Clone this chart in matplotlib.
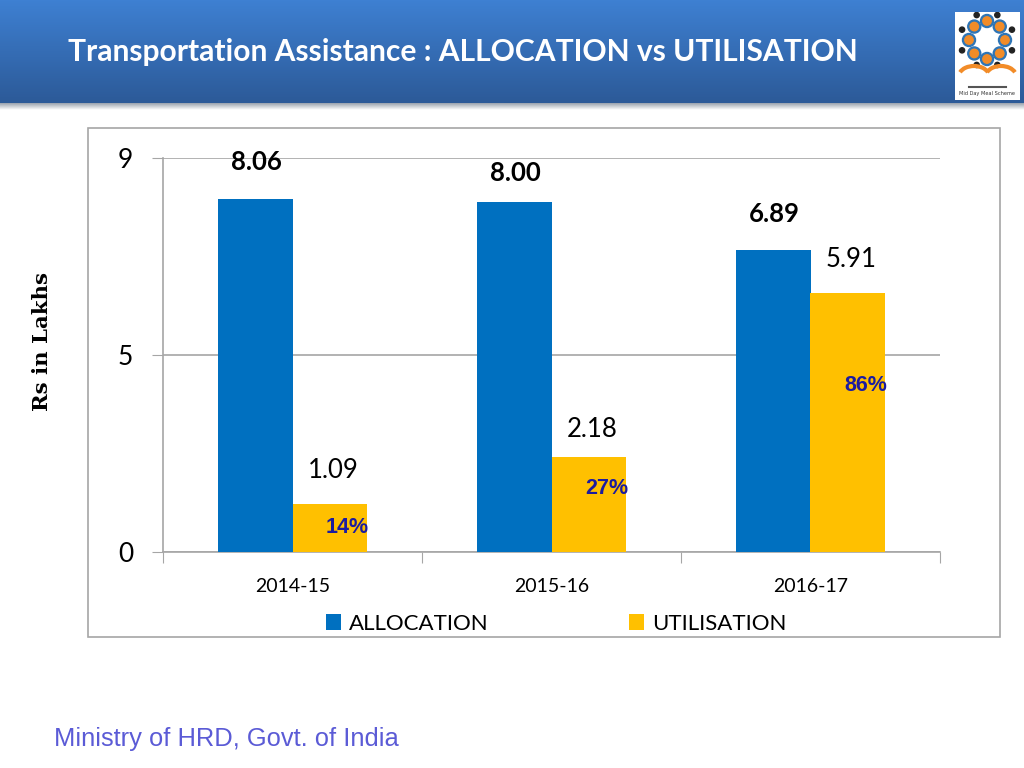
import numpy as np
import matplotlib.pyplot as plt
from matplotlib.colors import LinearSegmentedColormap
from matplotlib.patches import Rectangle, Circle, Arc

years = ['2014-15', '2015-16', '2016-17']
allocation = [8.06, 8.00, 6.89]
utilisation = [1.09, 2.18, 5.91]
pct_label = ['14%', '27%', '86%']
series = ['ALLOCATION', 'UTILISATION']
yticks = [0, 4.5, 9]   # Excel major unit 4.5, shown with no decimals

# label offsets (pixels) as placed on the slide
alloc_lift = [37, 29, 36]
util_lift = [34, 27, 34]
pct_drop = [23, 32, 92]

blue = '#0070C0'
yellow = '#FFC000'
grey = '#A6A6A6'

W, H = 1024, 768
fig = plt.figure(figsize=(10.24, 7.68), dpi=100)

# header band
hdr = fig.add_axes([0, 1 - 103 / H, 1, 103 / H])
cmap = LinearSegmentedColormap.from_list('hdr', ['#3E80D2', '#2C5A98'])
hdr.imshow(np.linspace(0, 1, 100)[:, None], aspect='auto', cmap=cmap, extent=[0, 1, 0, 1])
hdr.axis('off')
shadow = fig.add_axes([0, 1 - 110 / H, 1, 7 / H])
shadow.imshow(np.linspace(0, 1, 20)[:, None], aspect='auto',
              cmap=LinearSegmentedColormap.from_list('sh', ['#9AA3AE', '#FFFFFF']),
              extent=[0, 1, 0, 1])
shadow.axis('off')

fig.text(68 / W, 1 - 52 / H, 'Transportation Assistance : ALLOCATION vs UTILISATION',
         color='white', fontsize=21.6, weight='bold', family='Lato', va='center')

# logo
logo = fig.add_axes([955 / W, 1 - 100 / H, 65 / W, 88 / H])
logo.set_xlim(0, 65)
logo.set_ylim(0, 88)
logo.set_facecolor('white')
for s in logo.spines.values():
    s.set_visible(False)
logo.set_xticks([])
logo.set_yticks([])
for k in range(8):
    a = np.pi / 2 + k * np.pi / 4
    cx, cy = 32 + 18 * np.cos(a), 60 + 19 * np.sin(a)
    logo.add_patch(Circle((cx, cy), 6.5, color='#2E75B6'))
    logo.add_patch(Circle((cx, cy), 4.2, color='#F28C28'))
    logo.add_patch(Circle((32 + 27 * np.cos(a + np.pi / 8), 60 + 27 * np.sin(a + np.pi / 8)),
                          2.6, color='#222222'))
logo.add_patch(Arc((19, 24), 30, 20, theta1=15, theta2=165, color='#F28C28', lw=3))
logo.add_patch(Arc((46, 24), 30, 20, theta1=15, theta2=165, color='#F28C28', lw=3))
logo.plot([14, 51], [13, 13], color='#555555', lw=1.5)
logo.text(32, 6, 'Mid Day Meal Scheme', fontsize=3.6, ha='center', va='center', color='#333333')

# chart frame
fig.add_artist(Rectangle((88 / W, 1 - 637 / H), 912 / W, 509 / H, transform=fig.transFigure,
                         fill=False, edgecolor=grey, lw=1.2))

ax = fig.add_axes([163 / W, 1 - 552 / H, 777 / W, 394 / H])
x = np.arange(len(years))
bw = 0.286
ax.bar(x - bw / 2, allocation, bw, color=blue, label=series[0], zorder=3)
ax.bar(x + bw / 2, utilisation, bw, color=yellow, label=series[1], zorder=3)

for i in range(len(years)):
    ax.annotate(f'{allocation[i]:.2f}', (x[i] - bw / 2, allocation[i]), xytext=(1, alloc_lift[i]),
                textcoords='offset pixels', ha='center', va='center',
                fontsize=18.5, weight='bold', family='Lato', color='black')
    ax.annotate(f'{utilisation[i]:.2f}', (x[i] + bw / 2, utilisation[i]), xytext=(4, util_lift[i]),
                textcoords='offset pixels', ha='center', va='center',
                fontsize=18.5, family='Lato', color='black')
    ax.annotate(pct_label[i], (x[i] + bw / 2, utilisation[i]), xytext=(18, -pct_drop[i]),
                textcoords='offset pixels', ha='center', va='center',
                fontsize=15.5, weight='bold', family='Liberation Sans', color='#1C1CA0')

ax.set_xlim(-0.5, 2.5)
ax.set_ylim(0, 9)
ax.set_yticks(yticks)
ax.set_yticklabels([str(int(t + 0.5)) for t in yticks], fontsize=19, family='Lato')
ax.tick_params(axis='y', length=8, color=grey, pad=13.5)
ax.yaxis.grid(True, color=grey, lw=1.2, zorder=0)
ax.set_xticks([-0.5, 0.5, 1.5, 2.5])
ax.set_xticklabels([])
ax.tick_params(axis='x', which='major', length=8, color=grey)
ax.set_xticks(x, minor=True)
ax.set_xticklabels(years, minor=True, fontsize=14, family='Lato')
ax.tick_params(axis='x', which='minor', length=0, pad=19)
for side in ['top', 'right']:
    ax.spines[side].set_visible(False)
for side in ['left', 'bottom']:
    ax.spines[side].set_color(grey)
    ax.spines[side].set_linewidth(1.2)
ax.set_axisbelow(True)

ax.legend(loc='center', bbox_to_anchor=(556 / W, 1 - 624 / H), bbox_transform=fig.transFigure,
          ncol=2, frameon=False, prop={'family': 'Lato', 'size': 16},
          handlelength=0.7, handleheight=0.7, handletextpad=0.35, columnspacing=6.3)

fig.text(42 / W, 1 - 341 / H, 'Rs in Lakhs', rotation=90, family='DejaVu Serif',
         weight='bold', fontsize=15.3, ha='center', va='center')
fig.text(54 / W, 1 - 739 / H, 'Ministry of HRD, Govt. of India', family='Liberation Sans',
         fontsize=18.4, color='#5B5BD6', va='center')

fig.savefig('out.png', dpi=100)
